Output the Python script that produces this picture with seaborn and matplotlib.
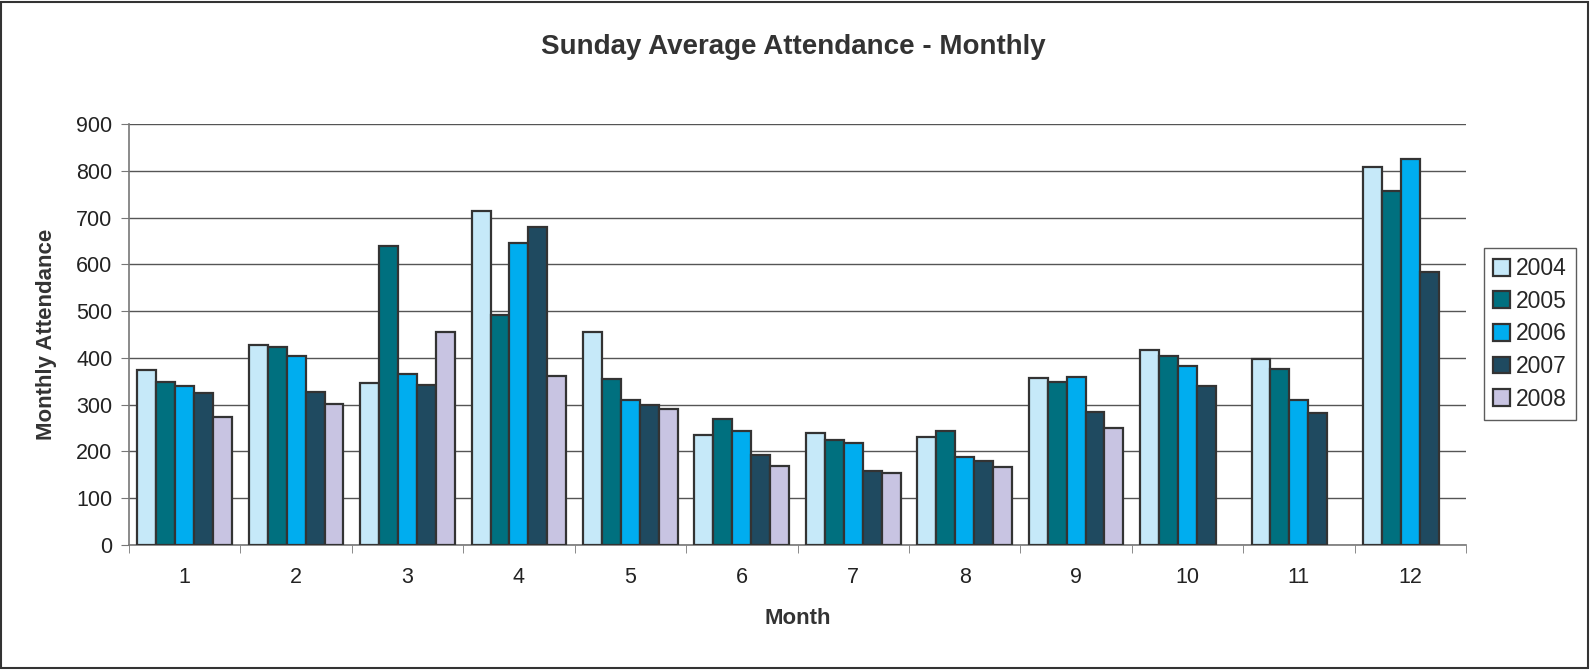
import numpy as np
import pandas as pd
import matplotlib.pyplot as plt
import seaborn as sns
from matplotlib.patches import Rectangle

months = [str(m) for m in range(1, 13)]
years = ['2004', '2005', '2006', '2007', '2008']
att_2004 = [374, 427, 346, 715, 455, 236, 240, 230, 358, 416, 397, 808]
att_2005 = [349, 424, 639, 491, 354, 270, 225, 244, 349, 404, 377, 757]
att_2006 = [340, 405, 366, 645, 311, 244, 219, 188, 360, 383, 309, 825]
att_2007 = [325, 327, 342, 680, 299, 193, 158, 180, 285, 339, 282, 583]
att_2008 = [273, 302, 455, 362, 291, 168, 154, 166, 250, np.nan, np.nan, np.nan]
colors = ['#C6E9F9', '#00707F', '#00ADEF', '#1F4A60', '#C8C4E2']

series = [att_2004, att_2005, att_2006, att_2007, att_2008]
df = pd.DataFrame({
    'Month': months * len(years),
    'Year': [y for y in years for _ in months],
    'Attendance': [v for s in series for v in s],
})

sns.set_style('white')
plt.rcParams['font.family'] = ['Liberation Sans', 'DejaVu Sans']

W, H = 1590, 670
fig = plt.figure(figsize=(W / 100, H / 100), dpi=100)
# axes box in pixels: left 129, right 1466, top 124, bottom 545
ax = fig.add_axes([129 / W, 1 - 545 / H, (1466 - 129) / W, (545 - 124) / H])

sns.barplot(data=df, x='Month', y='Attendance', hue='Year', order=months,
            hue_order=years, palette=dict(zip(years, colors)), width=0.85,
            saturation=1, edgecolor='#333333', linewidth=1.6, ax=ax,
            legend=True, zorder=3)

ax.set_ylim(0, 900)
ax.set_yticks(range(0, 901, 100))
ax.set_xlim(-0.5, 11.5)
ax.yaxis.grid(True, color='#555555', linewidth=1.0, zorder=0)
ax.set_axisbelow(True)
for side in ['top', 'right']:
    ax.spines[side].set_visible(False)
for side in ['left', 'bottom']:
    ax.spines[side].set_color('#777777')
    ax.spines[side].set_linewidth(1.2)

ax.tick_params(axis='y', which='major', direction='out', length=6, color='#777777',
               labelsize=15.5, labelcolor='#222222', left=True, pad=6)
ax.tick_params(axis='x', which='major', length=0, labelsize=15.5, labelcolor='#222222', pad=16)
ax.set_xticks(np.arange(-0.5, 12, 1), minor=True)
ax.tick_params(axis='x', which='minor', direction='out', length=6, color='#777777', bottom=True)

ax.set_xlabel('Month', fontsize=16, fontweight='bold', color='#333333')
ax.set_ylabel('Monthly Attendance', fontsize=16, fontweight='bold', color='#333333')
ax.xaxis.set_label_coords(0.5, (545 - 619) / (545 - 124))
ax.yaxis.set_label_coords((47 - 129) / (1466 - 129), 0.5)
ax.xaxis.label.set_va('center')
ax.yaxis.label.set_va('center')

fig.text(793 / W, 1 - 47 / H, 'Sunday Average Attendance - Monthly', fontsize=20,
         fontweight='bold', color='#333333', ha='center', va='center')

leg = ax.legend(loc='upper left', bbox_to_anchor=(1484 / W, 1 - 248 / H),
                bbox_transform=fig.transFigure, frameon=True, fancybox=False,
                fontsize=16.5, handlelength=0.75, handleheight=0.75, handletextpad=0.25,
                labelspacing=0.42, borderpad=0.4, borderaxespad=0)
leg.get_frame().set_edgecolor('#333333')
leg.get_frame().set_linewidth(1.0)

fig.patches.append(Rectangle((1 / W, 2 / H), 1587 / W, 666 / H,
                             transform=fig.transFigure, fill=False,
                             edgecolor='#333333', linewidth=1.5))

fig.savefig('out.png', dpi=100)
